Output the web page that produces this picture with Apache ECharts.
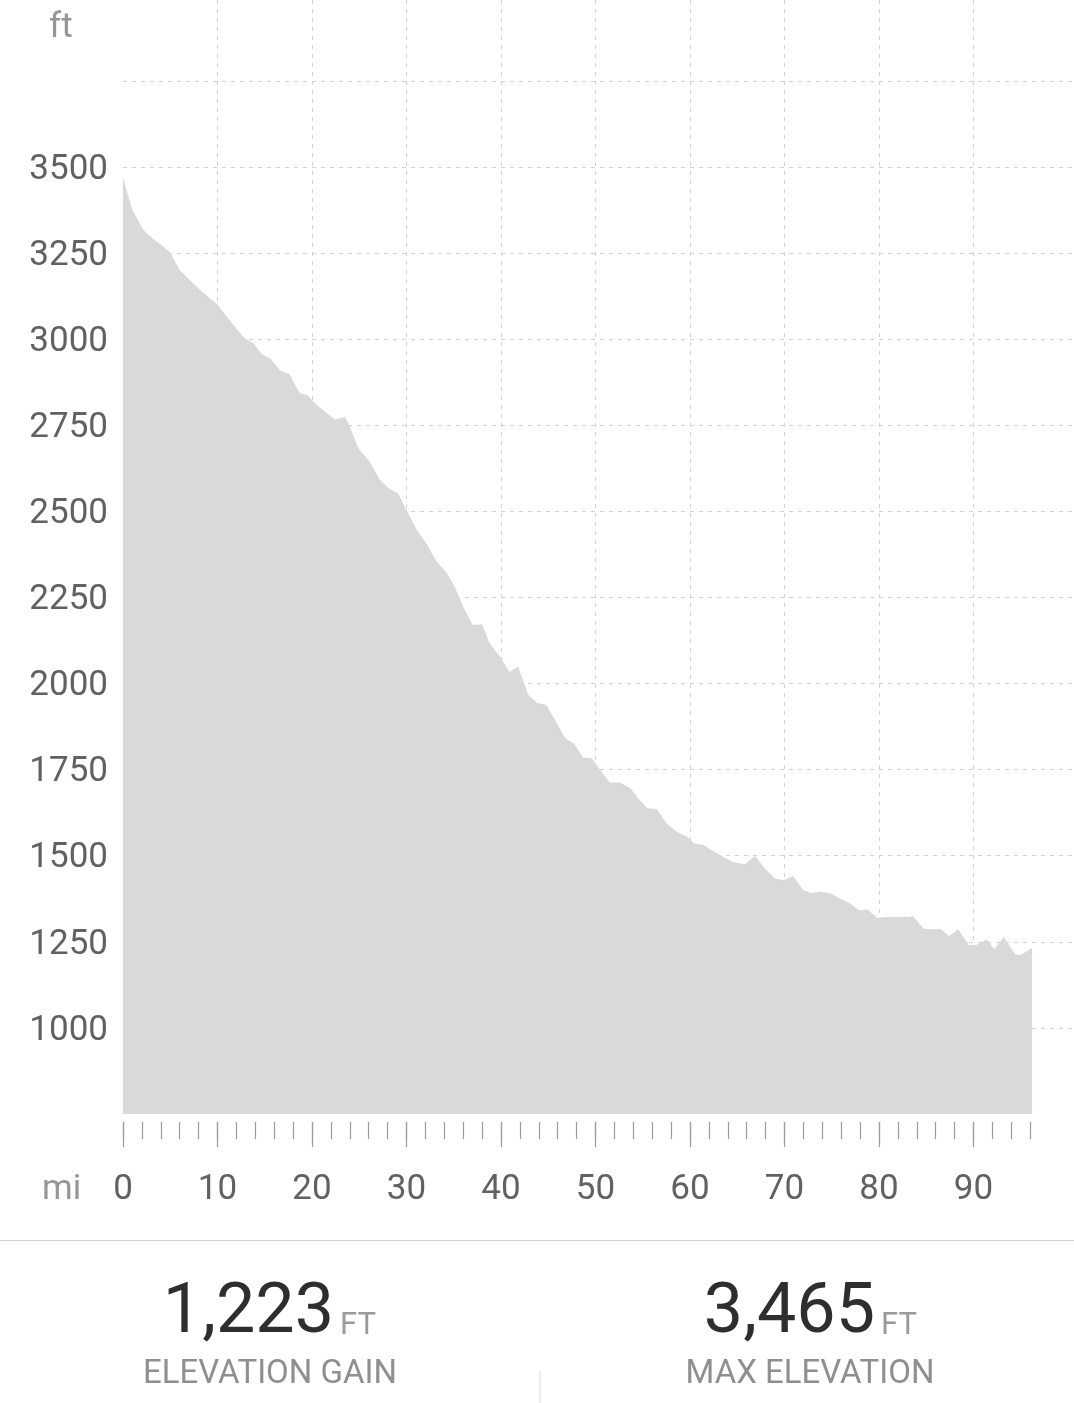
<!DOCTYPE html>
<html>
<head>
<meta charset="utf-8">
<script src="https://cdn.jsdelivr.net/npm/echarts@6/dist/echarts.min.js"></script>
<style>
html,body{margin:0;padding:0;background:#fff;}
#chart{width:1074px;height:1403px;}
</style>
</head>
<body>
<div id="chart"></div>
<script>
// Distance along route (mi)
var distanceMi = [0,1.0,2.15,3.1,4.1,5.0,6.0,6.9,8.0,9.0,9.9,11.0,12.0,12.9,13.8,14.7,15.6,16.6,17.6,18.7,19.5,20.5,21.6,22.4,23.5,24.0,24.9,26.1,27.2,28.1,29.1,30.0,31.1,32.1,33.2,34.3,35.1,36.0,37.0,38.0,38.8,39.9,40.9,41.8,42.9,43.8,44.8,45.6,46.8,47.7,48.7,49.6,50.5,51.5,52.6,53.7,54.5,55.5,56.5,57.5,58.6,59.7,60.4,61.4,62.5,63.5,64.6,65.8,66.9,67.9,69.0,69.9,70.9,72.0,72.9,73.8,74.8,75.9,76.9,77.9,78.8,79.8,80.8,81.9,82.9,83.6,84.7,85.6,86.5,87.4,88.4,89.5,90.3,91.4,92.2,93.2,94.4,95.0,96.2];
// Elevation (ft)
var elevationFt = [3468,3375,3317,3293,3273,3251,3201,3176,3147,3123,3104,3065,3031,3002,2988,2957,2944,2910,2899,2843,2838,2809,2784,2767,2774,2746,2683,2644,2591,2567,2552,2504,2446,2407,2354,2320,2281,2223,2170,2172,2117,2078,2034,2049,1967,1944,1938,1900,1841,1826,1785,1783,1749,1713,1713,1696,1667,1638,1636,1594,1570,1555,1536,1531,1512,1497,1481,1475,1500,1463,1434,1429,1441,1400,1392,1396,1391,1376,1362,1342,1344,1320,1322,1322,1322,1324,1289,1286,1287,1267,1286,1241,1241,1257,1228,1265,1214,1212,1233];
// Y tick labels shown
var yTickLabels = [1000,1250,1500,1750,2000,2250,2500,2750,3000,3250,3500];
// X tick labels shown
var xTickLabels = [0,10,20,30,40,50,60,70,80,90];
// Summary stats
var statValues = ['1,223','3,465'];
var statUnits = ['FT','FT'];
var statNames = ['ELEVATION GAIN','MAX ELEVATION'];

var FONT = 'Roboto';
var pxPerMi = 9.45;
var gridLeft = 123;
var gridBottom = 289;
var seriesData = distanceMi.map(function (d, i) { return [d, elevationFt[i]]; });

var chart = echarts.init(document.getElementById('chart'), null, {renderer:'canvas'});
var dash = {color:'#d2d2d2', width:1, type:[4,5]};

var option = {
  backgroundColor:'#fff',
  animation:false,
  grid:[
    {left:gridLeft, right:0, top:0, bottom:gridBottom},
    {left:gridLeft, width:96*pxPerMi, top:0, bottom:gridBottom},
    {left:gridLeft, width:90*pxPerMi, top:0, bottom:gridBottom}
  ],
  xAxis:[
    {gridIndex:0, type:'value', min:0, max:1074/pxPerMi - gridLeft/pxPerMi,
     axisLine:{show:false}, axisTick:{show:false}, axisLabel:{show:false}, splitLine:{show:false}},
    {gridIndex:1, type:'value', min:0, max:96, interval:2, offset:8,
     axisLine:{show:false}, axisTick:{show:true, length:17, lineStyle:{color:'#9a9a9a', width:1.2}},
     axisLabel:{show:false}, splitLine:{show:false}},
    {gridIndex:2, type:'value', min:0, max:90, interval:10, offset:8,
     axisLine:{show:false}, axisTick:{show:true, length:25, lineStyle:{color:'#9a9a9a', width:1.2}},
     axisLabel:{show:true, margin:51, color:'#616161', fontFamily:FONT, fontSize:35,
       formatter:function(v){ return xTickLabels.indexOf(v) >= 0 ? String(v) : ''; }},
     splitLine:{show:true, showMinLine:false, showMaxLine:true, lineStyle:dash}}
  ],
  yAxis:[
    {gridIndex:0, type:'value', min:750, max:3985, interval:250,
     axisLine:{show:false}, axisTick:{show:false},
     axisLabel:{show:true, margin:15,
       formatter:function(v){ return yTickLabels.indexOf(v) >= 0 ? '{n|' + v + '}' : ''; },
       rich:{n:{color:'#616161', fontFamily:FONT, fontSize:35, padding:[6,0,0,0]}}},
     splitLine:{show:true, showMinLine:false, showMaxLine:false, lineStyle:dash}},
    {gridIndex:1, type:'value', min:750, max:3985, show:false},
    {gridIndex:2, type:'value', min:750, max:3985, show:false}
  ],
  series:[
    {type:'line', xAxisIndex:0, yAxisIndex:0, data:seriesData, symbol:'none', silent:true,
     lineStyle:{width:0, color:'#d9d9d9'}, areaStyle:{color:'#d9d9d9', opacity:1}, z:3}
  ],
  graphic:[
    {type:'text', left:49, top:11, style:{text:'ft', font:'35px Roboto', fill:'#969696'}},
    {type:'text', x:42, y:1190, style:{text:'mi', font:'35px Roboto', fill:'#969696', verticalAlign:'middle', align:'left'}},
    {type:'rect', shape:{x:0, y:1240, width:1074, height:1}, style:{fill:'#d4d4d4'}},
    {type:'rect', shape:{x:539.5, y:1371, width:1, height:32}, style:{fill:'#dedede'}},
    {type:'text', x:334, y:1314, style:{text:statValues[0], font:'70px Roboto', fill:'#2e2e2e', align:'right', verticalAlign:'middle'}},
    {type:'text', x:340, y:1326, style:{text:statUnits[0], font:'31px Roboto', fill:'#9a9a9a', align:'left', verticalAlign:'middle'}},
    {type:'text', x:270, y:1375, style:{text:statNames[0], font:'33px Roboto', fill:'#8f8f8f', align:'center', verticalAlign:'middle'}},
    {type:'text', x:875, y:1314, style:{text:statValues[1], font:'70px Roboto', fill:'#2e2e2e', align:'right', verticalAlign:'middle'}},
    {type:'text', x:881, y:1326, style:{text:statUnits[1], font:'31px Roboto', fill:'#9a9a9a', align:'left', verticalAlign:'middle'}},
    {type:'text', x:810, y:1375, style:{text:statNames[1], font:'33px Roboto', fill:'#8f8f8f', align:'center', verticalAlign:'middle'}}
  ]
};
chart.setOption(option);
</script>
</body>
</html>
